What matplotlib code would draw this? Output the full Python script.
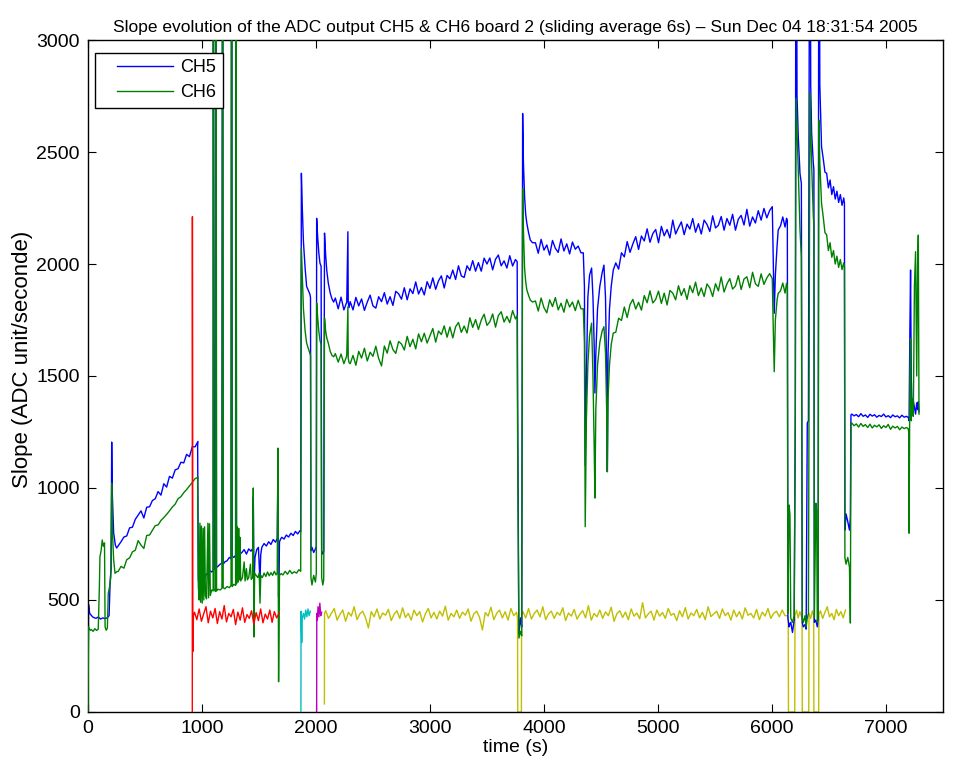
import numpy as np
import matplotlib
matplotlib.use("Agg")
import matplotlib.pyplot as plt
from matplotlib.lines import Line2D
from matplotlib.legend_handler import HandlerLine2D

plt.rcParams['font.family'] = ['Liberation Sans', 'DejaVu Sans']

OFF = 4500  # saturated samples, above the visible range

# ---------------- CH5 ----------------
ch5_start_t = [0, 5, 15, 40]
ch5_start_v = [0, 480, 440, 425]
ch5_flat = [422, 418, 424, 415, 420, 417, 421]                      # from 50 s, 20 s step
ch5_jump_t = [185, 195, 203, 208, 213, 225, 240, 252]
ch5_jump_v = [430, 590, 640, 1205, 980, 800, 745, 732]
ch5_ramp = [742, 760, 781, 786, 822, 825, 860, 879, 898, 866, 914, 916, 944, 952,
            984, 968, 1019, 1004, 1052, 1044, 1081, 1086, 1115, 1112, 1150, 1140,
            1184, 1184, 1208]                                         # from 265 s, 25 s step
ch5_mid_t = [962, 968, 980, 995, 1010, 1030, 1050, 1075, 1085, 1098, 1100, 1104,
             1115, 1123, 1127, 1140, 1160, 1175, 1181, 1186, 1200, 1220, 1240, 1255,
             1260, 1265, 1280, 1295, 1298, 1303, 1320, 1335, 1350, 1370, 1390, 1410,
             1430, 1445, 1450, 1456, 1465, 1480, 1495, 1509, 1515, 1525, 1545, 1565,
             1585, 1605, 1625, 1645, 1660, 1666, 1672, 1680, 1690, 1700, 1720, 1740,
             1760, 1780, 1800, 1820, 1840, 1860]
ch5_mid_v = [1190, 590, 555, 600, 570, 610, 620, 630, 625, 630, OFF, 640,
             635, OFF, 645, 650, 660, 665, OFF, 660, 670, 675, 690, 685,
             OFF, 695, 690, 700, OFF, 705, 715, 705, 712, 725, 705, 728,
             718, 730, 960, 560, 690, 725, 735, 580, 700, 735, 752, 741,
             760, 748, 770, 758, 775, 1073, 515, 760, 772, 780, 772, 790,
             781, 798, 788, 806, 795, 810]
ch5_burst_t = [1866, 1872, 1880, 1890, 1905, 1918, 1935, 1947, 1952, 1956, 1965, 1980,
               1995, 2003, 2006, 2015, 2025, 2035, 2045, 2050, 2060, 2068, 2075, 2085,
               2095, 2108, 2125, 2140, 2155, 2170, 2195, 2220, 2245, 2270, 2280, 2283,
               2290]
ch5_burst_v = [805, 2405, 2250, 2100, 1980, 1900, 1880, 1865, 1850, 720, 735, 712,
               728, 740, 2204, 2120, 2050, 2004, 1990, 720, 705, 718, 2138, 2040,
               1970, 1915, 1870, 1845, 1830, 1848, 1800, 1852, 1795, 1830, 2144, 1830,
               1805]
ch5_drift = [1832, 1795, 1851, 1813, 1844, 1793, 1830, 1861, 1813, 1803, 1854, 1832,
             1872, 1821, 1854, 1815, 1878, 1867, 1843, 1894, 1840, 1889, 1868, 1920,
             1866, 1895, 1862, 1921, 1891, 1938, 1887, 1925, 1947, 1893, 1949, 1934,
             1973, 1931, 1992, 1947, 1940, 1992, 1971, 2015, 1968, 2006, 1968, 2026,
             2000, 2027, 1974, 2021, 2040, 1992, 2014, 1982, 2037, 1991, 2020]  # from 2300 s
ch5_kick_t = [3765, 3769, 3780, 3795, 3805, 3813, 3820, 3830, 3840, 3850, 3865, 3880, 3900]
ch5_kick_v = [2010, 1400, 350, 420, 380, 2672, 2450, 2300, 2220, 2181, 2140, 2107, 2095]
ch5_hold = [2095, 2048, 2110, 2062, 2085, 2040, 2105, 2070, 2052, 2112, 2058, 2090,
            2045, 2098, 2066, 2080, 2050]                                      # from 3925 s
dip_t = [4345, 4355, 4362, 4372, 4385, 4400, 4418, 4430, 4440, 4447, 4455, 4470,
         4490, 4510, 4526, 4540, 4550, 4556, 4562, 4575, 4590, 4608]
ch5_dip_v = [2050, 1900, 1100, 1500, 1850, 1950, 1982, 1850, 1650, 1424, 1600, 1800,
             1900, 1960, 1995, 1850, 1513, 1073, 1600, 1800, 1900, 1973]
ch5_rise = [2005, 1977, 2050, 2032, 2100, 2052, 2090, 2122, 2065, 2125, 2103, 2157,
            2097, 2136, 2154, 2095, 2168, 2126, 2154, 2116, 2196, 2134, 2162, 2188,
            2131, 2178, 2156, 2203, 2142, 2180, 2134, 2196, 2177, 2145, 2215, 2161,
            2173, 2212, 2151, 2203, 2173, 2222, 2151, 2200, 2217, 2174, 2244, 2169,
            2210, 2183, 2238, 2196, 2248, 2206, 2239]                          # from 4630 s
end_t = [6003, 6012, 6020, 6030, 6045, 6055, 6075, 6095, 6115, 6128, 6135,
         6140, 6150, 6158, 6165, 6180, 6195, 6205, 6211, 6220, 6231, 6246, 6258,
         6266, 6275, 6290, 6300, 6310, 6320, 6333, 6340, 6348, 6363, 6368, 6372,
         6385, 6392, 6398, 6405, 6412, 6420, 6435, 6450, 6465, 6480, 6495, 6510,
         6525, 6540, 6555, 6570, 6585, 6600, 6615, 6630, 6636, 6640, 6650, 6665,
         6680, 6688, 6693]
ch5_end_v = [2256, 2000, 1780, 1950, 2080, 2152, 2170, 2210, 2165, 2204, 2195,
             420, 380, 395, 400, 355, 410, 1296, OFF, 2750, 2568, 2404, 2360,
             400, 380, 390, 370, 1290, 1300, OFF, 2800, 2585, 2450, 2420, 400,
             410, 395, 380, 420, OFF, 2800, 2524, 2470, 2410, 2405, 2340, 2375,
             2310, 2345, 2290, 2325, 2275, 2310, 2262, 2295, 2270, 812, 884, 850,
             812, 870, 1326]
ch5_step = [1330, 1322, 1328, 1318, 1332, 1320, 1326, 1315, 1329, 1321, 1327, 1316,
            1324, 1319, 1330, 1317, 1323, 1314, 1326, 1318, 1322, 1313, 1325, 1316,
            1320]                                                              # from 6700 s
tail_t = [7195, 7200, 7203, 7210, 7216, 7222, 7230, 7240, 7250, 7260, 7270, 7278,
          7284, 7290]
ch5_tail_v = [1315, 1310, 1300, 1700, 1973, 1500, 1350, 1390, 1360, 1330, 1380, 1350,
              1385, 1340]

# ---------------- CH6 ----------------
ch6_start_t = [0, 5, 20, 30, 45, 60, 75, 90, 100, 105, 115, 125, 135, 145, 150,
               160, 170, 178, 190, 200, 208, 215, 225, 237, 252]
ch6_start_v = [0, 380, 365, 368, 360, 372, 364, 370, 560, 693, 720, 768, 740, 755, 380,
               365, 375, 530, 560, 600, 1021, 800, 680, 619, 626]
ch6_ramp = [628, 650, 642, 680, 688, 715, 722, 765, 745, 730, 788, 790, 811, 832,
            835, 855, 868, 882, 898, 915, 928, 952, 961, 979, 993, 1009, 1025, 1042,
            1048]                                                              # from 265 s
ch6_mid_t = [962, 968, 975, 982, 988, 995, 1002, 1010, 1016, 1023, 1030, 1040, 1052,
             1058, 1066, 1073, 1085, 1098, 1100, 1104, 1110, 1118, 1123, 1128, 1140,
             1160, 1175, 1181, 1186, 1200, 1220, 1240, 1255, 1260, 1265, 1280, 1295,
             1298, 1303, 1310, 1316, 1322, 1328, 1333, 1340, 1355, 1370, 1378, 1390,
             1398, 1410, 1425, 1432, 1445, 1450, 1456, 1462, 1475, 1490, 1502, 1509,
             1516, 1530, 1545, 1560, 1575, 1590, 1605, 1620, 1635, 1650, 1660, 1666,
             1672, 1680, 1695, 1710, 1730, 1750, 1770, 1790, 1810, 1830, 1850]
ch6_mid_v = [1030, 560, 500, 843, 490, 830, 486, 820, 500, 827, 520, 505, 843,
             510, 840, 520, 545, 540, OFF, 550, 545, 538, OFF, 540, 548,
             545, 552, OFF, 555, 550, 560, 555, 565, OFF, 560, 570, 565,
             OFF, 572, 827, 580, 820, 590, 780, 585, 600, 670, 585, 640,
             590, 600, 660, 592, 600, 1000, 335, 620, 610, 600, 620, 486,
             610, 600, 620, 605, 625, 608, 622, 610, 628, 612, 620, 1178,
             135, 610, 618, 612, 628, 615, 632, 618, 626, 620, 635]
ch6_burst_v = [628, 2071, 1950, 1800, 1700, 1647, 1620, 1600, 1590, 600, 567, 610,
               580, 620, 1826, 1760, 1700, 1660, 1640, 600, 567, 590, 1759, 1700,
               1670, 1647, 1610, 1592, 1586, 1600, 1562, 1598, 1555, 1590, 1809, 1580,
               1560]
ch6_drift = [1555, 1592, 1548, 1610, 1580, 1624, 1567, 1606, 1588, 1633, 1578, 1545,
             1634, 1602, 1657, 1618, 1601, 1654, 1643, 1616, 1677, 1631, 1664, 1621,
             1688, 1653, 1691, 1647, 1680, 1712, 1651, 1701, 1685, 1724, 1673, 1719,
             1670, 1720, 1739, 1695, 1723, 1692, 1760, 1717, 1752, 1708, 1750, 1776,
             1726, 1742, 1777, 1718, 1770, 1787, 1741, 1766, 1738, 1792, 1755]  # from 2300 s
ch6_kick_v = [1770, 1200, 330, 360, 340, 2337, 2150, 1980, 1920, 1884, 1860, 1839, 1830]
ch6_hold = [1835, 1790, 1848, 1805, 1782, 1840, 1810, 1850, 1795, 1825, 1785, 1842,
            1808, 1830, 1792, 1838, 1800]
ch6_dip_v = [1800, 1650, 827, 1300, 1550, 1680, 1736, 1500, 1200, 955, 1350, 1550,
             1650, 1700, 1720, 1600, 1350, 1073, 1400, 1550, 1640, 1692]
ch6_rise = [1695, 1758, 1748, 1808, 1761, 1819, 1842, 1799, 1829, 1794, 1859, 1827,
            1880, 1826, 1842, 1879, 1824, 1870, 1817, 1882, 1870, 1840, 1903, 1860,
            1890, 1842, 1903, 1872, 1919, 1859, 1893, 1855, 1911, 1893, 1855, 1912,
            1880, 1942, 1875, 1911, 1935, 1888, 1902, 1948, 1886, 1933, 1943, 1894,
            1963, 1912, 1900, 1956, 1909, 1938, 1957]                          # from 4630 s
ch6_end_v = [1935, 1700, 1519, 1750, 1840, 1869, 1880, 1915, 1870, 1914, 1905,
             440, 924, 880, 420, 400, 430, 1385, 2739, 2600, 2420, 2152, 2033,
             420, 400, 430, 380, 420, 440, 2761, 2600, 2450, 2211, 2180, 420,
             932, 900, 400, 430, 2643, 2450, 2271, 2210, 2140, 2130, 2060, 2095,
             2030, 2060, 2000, 2035, 1985, 2020, 1975, 2005, 1988, 690, 660, 690,
             647, 397, 1289]
ch6_step = [1290, 1278, 1286, 1272, 1288, 1275, 1283, 1270, 1285, 1268, 1280, 1273,
            1282, 1266, 1278, 1270, 1284, 1262, 1276, 1268, 1275, 1260, 1272, 1265,
            1270]
ch6_tail_v = [1265, 1250, 798, 1500, 1668, 1300, 1400, 1320, 1900, 2055, 1500, 2000,
              2129, 1330]

# ---------------- reference channel, recorded in separate runs ----------------
red_t = [915, 916, 920, 925]
red_v = [0, 2211, 270, 430]
red_run = [445, 412, 460, 405, 438, 470, 398, 450, 420, 462, 395, 448, 415, 475,
           402, 440, 425, 458, 390, 446, 410, 465, 400, 435, 418, 452, 392, 444,
           408, 460, 398, 437, 415, 455, 400, 448, 420, 440]                   # from 935 s
cyan_t = [1868, 1869, 1875, 1880, 1890, 1900, 1910, 1920, 1930, 1940, 1950]
cyan_v = [0, 450, 310, 420, 440, 415, 455, 425, 460, 430, 450]
magenta_t = [2006, 2007, 2012, 2018, 2026, 2034, 2042, 2050]
magenta_v = [0, 440, 410, 470, 425, 486, 430, 445]
yellow_t = [2074, 2075]
yellow_v = [36, 440]
yellow_run1 = [452, 418, 440, 462, 410, 435, 455, 405, 445, 428, 470, 412, 438, 450,
               420, 375, 448, 425, 460, 415, 442, 432, 458, 408, 436, 452, 418, 465,
               422, 440, 410, 455, 430, 448, 402, 438, 462, 420, 445, 415, 450, 428,
               472, 410, 440, 425, 455, 418, 446, 432, 460, 405, 438, 450, 422, 366,
               444, 428, 468, 412, 440, 455, 420, 448, 410, 462, 430, 445]     # from 2085 s
yellow_gap_t = [3768, 3770, 3802, 3804]
yellow_gap_v = [420, 0, 0, 430]
yellow_run2 = [448, 420, 462, 415, 440, 455, 425, 470, 412, 438, 450, 418, 445, 432,
               465, 408, 442, 428, 458, 415, 436, 452, 420, 475, 410, 440, 425, 455,
               418, 447, 430, 468, 405, 439, 452, 422, 446, 412, 460, 428, 442, 416,
               488, 420, 438, 450, 410, 455, 428, 444, 418, 462, 432, 440, 408, 452,
               425, 466, 415, 442, 430, 458, 420, 445, 412, 470, 426, 438, 450, 418,
               460, 430, 444, 410, 455, 425, 448, 415, 465, 432, 440, 420, 458, 412,
               446, 428, 462, 418, 440, 450, 425, 455, 430]                    # from 3815 s
yellow_cut_t = [6140, 6143, 6145, 6200, 6202, 6215, 6230, 6245, 6260, 6264, 6266,
                6323, 6325, 6340, 6355, 6366, 6368, 6410, 6412]
yellow_cut_v = [430, 410, 0, 0, 430, 455, 420, 448, 425, 410, 0,
                0, 440, 418, 452, 430, 0, 0, 435]
yellow_run3 = [452, 418, 445, 470, 425, 440, 412, 458, 430, 448, 420, 455]     # from 6425 s


def grid(t0, dt, vals):
    return [t0 + dt * i for i in range(len(vals))], vals


def join(*parts):
    t, v = [], []
    for pt, pv in parts:
        t.extend(pt)
        v.extend(pv)
    return np.array(t, float), np.array(v, float)


burst_t = ch5_burst_t
kick_t = ch5_kick_t

t5, v5 = join((ch5_start_t, ch5_start_v), grid(50, 20, ch5_flat),
              (ch5_jump_t, ch5_jump_v), grid(265, 25, ch5_ramp),
              (ch5_mid_t, ch5_mid_v), (burst_t, ch5_burst_v),
              grid(2300, 25, ch5_drift), (kick_t, ch5_kick_v),
              grid(3925, 25, ch5_hold), (dip_t, ch5_dip_v),
              grid(4630, 25, ch5_rise), (end_t, ch5_end_v),
              grid(6700, 20, ch5_step), (tail_t, ch5_tail_v))

t6, v6 = join((ch6_start_t, ch6_start_v), grid(265, 25, ch6_ramp),
              (ch6_mid_t, ch6_mid_v), (burst_t, ch6_burst_v),
              grid(2300, 25, ch6_drift), (kick_t, ch6_kick_v),
              grid(3925, 25, ch6_hold), (dip_t, ch6_dip_v),
              grid(4630, 25, ch6_rise), (end_t, ch6_end_v),
              grid(6700, 20, ch6_step), (tail_t, ch6_tail_v))

tr, vr = join((red_t, red_v), grid(935, 20, red_run))
ty, vy = join((yellow_t, yellow_v), grid(2085, 25, yellow_run1),
              (yellow_gap_t, yellow_gap_v), grid(3815, 25, yellow_run2),
              (yellow_cut_t, yellow_cut_v), grid(6425, 20, yellow_run3))

fig = plt.figure(figsize=(9.69, 7.65), dpi=100)
ax = fig.add_axes([0.0908, 0.0693, 0.8823, 0.8784])

lw = 1.0
ax.plot(ty, vy, color=(0.75, 0.75, 0), lw=lw, zorder=1)
ax.plot(t5, v5, color=(0, 0, 1), lw=lw, label='CH5', zorder=2)
ax.plot(t6, v6, color=(0, 0.5, 0), lw=lw, label='CH6', zorder=3)
ax.plot(tr, vr, color=(1, 0, 0), lw=lw, zorder=4)
ax.plot(cyan_t, cyan_v, color=(0, 0.75, 0.75), lw=lw, zorder=4)
ax.plot(magenta_t, magenta_v, color=(0.75, 0, 0.75), lw=lw, zorder=4)

ax.set_xlim(0, 7500)
ax.set_ylim(0, 3000)
ax.set_xticks(np.arange(0, 7001, 1000))
ax.set_yticks(np.arange(0, 3001, 500))
ax.tick_params(direction='in', top=True, right=True, length=6, width=0.8,
               labelsize=14, pad=6)
for s in ax.spines.values():
    s.set_linewidth(1.0)

ax.set_xlabel('time (s)', fontsize=14, labelpad=1)
ax.set_ylabel('Slope (ADC unit/seconde)', fontsize=16)
ax.yaxis.set_label_coords(-0.064, 0.524)
ax.set_title('Slope evolution of the ADC output CH5 & CH6 board 2 (sliding average 6s) '
             '\u2013 Sun Dec 04 18:31:54 2005', fontsize=12.5, pad=6)

leg = ax.legend(loc='upper left', bbox_to_anchor=(0.008, 0.981), fontsize=13,
                fancybox=False, edgecolor='black', framealpha=1,
                handlelength=4.0, borderpad=0.35, labelspacing=0.45,
                handletextpad=0.4, borderaxespad=0,
                handler_map={Line2D: HandlerLine2D(xpad=0.9)})
leg.get_frame().set_linewidth(1.0)

fig.savefig('out.png', dpi=100)
